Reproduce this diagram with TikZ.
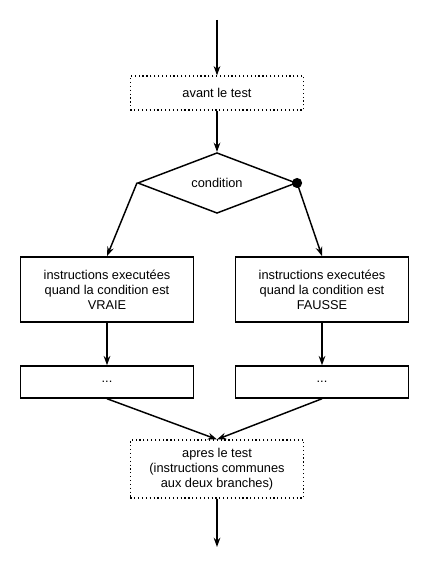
\documentclass[tikz,border=0pt]{standalone}
\usepackage{fontspec}
\setmainfont{Liberation Sans}
\usetikzlibrary{shapes.geometric,arrows.meta}

\begin{document}
\begin{tikzpicture}[x=0.75pt,y=-0.75pt,
    font=\fontsize{9.6}{11.25}\selectfont,
    every path/.style={line width=1.1pt},
    fleche/.style={-{Stealth[length=7pt,width=5pt]}},
    boite/.style={draw,rectangle,inner sep=0pt,align=center},
    pointille/.style={boite,dotted,line width=0.9pt}]
    \useasboundingbox (0,0) rectangle (429,566);

    % debut et fin
    \coordinate (haut) at (217,20);
    \coordinate (bas) at (217,547);

    \node[pointille,minimum width=130pt,minimum height=25.5pt] (avant) at (217,93) {avant le test};
    \node[draw,diamond,inner sep=0pt,minimum width=119pt,minimum height=45pt] (cond) at (217,183) {condition};

    \node[boite,minimum width=130pt,minimum height=49pt] (vraie) at (107,289.5)
        {instructions executées\\quand la condition est\\VRAIE};
    \node[boite,minimum width=130pt,minimum height=49pt] (fausse) at (322,289.5)
        {instructions executées\\quand la condition est\\FAUSSE};

    \node[boite,minimum width=130pt,minimum height=24pt] (suiteV) at (107,382) {...};
    \node[boite,minimum width=130pt,minimum height=24pt] (suiteF) at (322,382) {...};

    \node[pointille,minimum width=130pt,minimum height=43.5pt] (apres) at (217,469)
        {apres le test\\(instructions communes\\aux deux branches)};

    \draw[fleche] (haut) -- (avant.north);
    \draw[fleche] (avant.south) -- (cond.north);
    \draw[fleche] (cond.west) -- (vraie.north);
    \draw[fleche] (cond.east) -- (fausse.north);
    \fill (cond.east) circle (3.8pt);
    \draw[fleche] (vraie.south) -- (suiteV.north);
    \draw[fleche] (fausse.south) -- (suiteF.north);
    \draw[fleche] (suiteV.south) -- (apres.north);
    \draw[fleche] (suiteF.south) -- (apres.north);
    \draw[fleche] (apres.south) -- (bas);
\end{tikzpicture}
\end{document}
